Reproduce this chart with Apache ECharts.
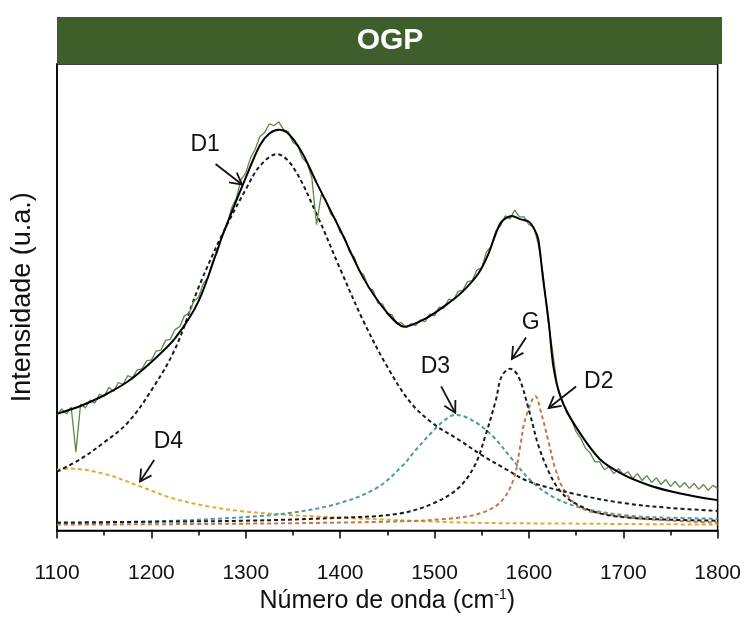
<!DOCTYPE html>
<html>
<head>
<meta charset="utf-8">
<script src="https://cdn.jsdelivr.net/npm/echarts@6/dist/echarts.min.js"></script>
<style>html,body{margin:0;padding:0;background:#fff}#c{width:744px;height:619px}</style>
</head>
<body>
<div id="c"></div>
<script>
// ---- data (wavenumber cm-1, intensity a.u.) ----
var expWn = [1100,1105,1110,1115,1120,1125,1130,1135,1140,1145,1150,1155,1160,1165,1170,1175,1180,1185,1190,1195,
1200,1205,1210,1215,1220,1225,1230,1235,1240,1245,1250,1255,1260,1265,1270,1275,1280,1285,1290,1295,
1300,1305,1310,1315,1320,1325,1330,1335,1340,1345,1350,1355,1360,1365,1370,1375,1380,1385,1390,1395,
1400,1405,1410,1415,1420,1425,1430,1435,1440,1445,1450,1455,1460,1465,1470,1475,1480,1485,1490,1495,
1500,1505,1510,1515,1520,1525,1530,1535,1540,1545,1550,1555,1560,1565,1570,1575,1580,1585,1590,1595,
1600,1605,1610,1615,1620,1625,1630,1635,1640,1645,1650,1655,1660,1665,1670,1675,1680,1685,1690,1695,
1700,1705,1710,1715,1720,1725,1730,1735,1740,1745,1750,1755,1760,1765,1770,1775,1780,1785,1790,1795,1800];
var expVal = [118,124,119,126,80,129,125,133,130,139,137,146,142,151,149,158,156,164,165,173,
174,183,184,194,195,205,208,219,222,234,238,252,258,275,284,302,311,329,339,358,
365,380,389,402,406,415,413,417,409,407,396,393,380,375,360,312,343,337,323,318,
304,299,284,279,265,261,248,245,232,231,221,220,211,212,207,211,209,215,213,221,
219,228,227,236,235,244,245,254,255,266,268,284,290,306,311,321,318,327,320,320,
312,310,292,262,216,184,148,134,120,113,101,94,84,79,70,70,62,65,58,63,
57,60,53,58,51,56,49,54,47,52,45,50,44,49,43,48,42,47,41,46,43];

var fitWn  = [1100,1125,1150,1175,1200,1225,1250,1275,1300,1315,1325,1335,1345,1360,1375,1400,1425,1450,1468,1490,1512,1530,1547,1557,1565,1571,1582,1590,1600,1606,1610,1615,1621,1626,1634,1649,1675,1700,1725,1750,1775,1800];
var fitVal = [119,127,138,152,172,196,234,300,360,393,405,409,405,385,355,307,257,222,208,216,230,244,263,282,303,315,321,318,315,307,297,257,213,167,135,107,73,57,47,40,35,31];

var d1Wn  = [1100,1125,1150,1175,1200,1225,1250,1275,1300,1315,1333,1350,1375,1400,1425,1450,1475,1500,1525,1550,1575,1600,1650,1700,1750,1800];
var d1Val = [60,73,90,110,143,185,248,302,348,372,384,371,323,267,213,167,130,108,93,77,63,50,37,28,23,20];

var gWn  = [1100,1200,1300,1400,1461,1497,1525,1543,1554,1565,1571,1580,1589,1600,1610,1621,1631,1645,1673,1708,1750,1800];
var gVal = [8,9,10,13,17,27,43,67,97,133,157,165,157,123,87,60,43,30,18,13,11,10];

var d2Wn  = [1100,1300,1450,1515,1550,1571,1584,1591,1596,1607,1613,1621,1628,1638,1655,1680,1720,1800];
var d2Val = [6,7,9,12,18,30,53,87,113,137,120,90,63,40,23,17,12,8];

var d3Wn  = [1100,1198,1269,1339,1396,1438,1465,1480,1497,1510,1522,1539,1561,1582,1603,1628,1660,1708,1750,1800];
var d3Val = [7,9,12,17,27,43,65,82,100,112,118,113,97,73,50,33,22,15,13,12];

var d4Wn  = [1100,1115,1153,1188,1222,1258,1293,1328,1381,1450,1536,1650,1800];
var d4Val = [62,63,57,45,33,25,20,17,14,11,8,7,6];

var xTicks = [1100,1200,1300,1400,1500,1600,1700,1800];

// annotations: label, text position, arrow tail, arrow head (data coords)
var annNames = ['D1','D4','D3','G','D2'];
var annText  = [[1257,394],[1218,91],[1501,167],[1602,212],[1674,152]];
var annFrom  = [[1268,374],[1203,72],[1507,147],[1597,197],[1650,147]];
var annTo    = [[1296,353],[1188,50],[1522,120],[1582,175],[1621,125]];

function zip(a,b){return a.map(function(v,i){return [v,b[i]];});}

var FONT = '"Liberation Sans", Arial, sans-serif';
var chart = echarts.init(document.getElementById('c'), null, {renderer:'canvas'});

function dashed(name, wn, val, color){
  return {type:'line', name:name, data:zip(wn,val), showSymbol:false, smooth:0.35, z:3,
    lineStyle:{color:color, width:2, type:[4,3]}};
}

var annData = annNames.map(function(n,i){
  return {name:n, value:[annText[i][0],annText[i][1],annFrom[i][0],annFrom[i][1],annTo[i][0],annTo[i][1]]};
});

var option = {
  animation:false,
  backgroundColor:'#fff',
  grid:{left:57, right:24, top:64, bottom:79, show:true, borderColor:'#000', borderWidth:1.5},
  xAxis:{type:'value', min:1100, max:1800, interval:100,
    axisLine:{show:true, lineStyle:{color:'#000', width:1.5}},
    axisTick:{show:true, inside:false, length:8, lineStyle:{color:'#000', width:1.5}},
    minorTick:{show:true, splitNumber:2, length:5, lineStyle:{color:'#000', width:1.5}},
    splitLine:{show:false},
    axisLabel:{fontSize:21, color:'#111', fontFamily:FONT, margin:32,
      formatter:function(v){return xTicks.indexOf(v)>=0?String(v):'';}},
    name:'Número de onda (cm{sup|-1})', nameLocation:'middle', nameGap:58,
    nameTextStyle:{fontSize:25, color:'#111', fontFamily:FONT,
      rich:{sup:{fontSize:14, color:'#111', fontFamily:FONT, verticalAlign:'top', padding:[0,0,12,0]}}}
  },
  yAxis:{type:'value', min:0, max:476,
    axisLine:{show:true, lineStyle:{color:'#000', width:1.5}},
    axisTick:{show:false}, axisLabel:{show:false}, splitLine:{show:false},
    name:'Intensidade (u.a.)', nameLocation:'middle', nameGap:21,
    nameTextStyle:{fontSize:27, color:'#111', fontFamily:FONT}
  },
  graphic:[
    {type:'rect', left:57, top:17, shape:{width:665, height:47}, style:{fill:'#3e5f2b'}, z:10},
    {type:'text', x:390, y:41, z:11,
      style:{text:'OGP', fill:'#fff', font:'bold 30px '+FONT, align:'center', verticalAlign:'middle'}}
  ],
  series:[
    dashed('D4', d4Wn, d4Val, '#e3a932'),
    dashed('D3', d3Wn, d3Val, '#4c9a9c'),
    dashed('D2', d2Wn, d2Val, '#c8744a'),
    dashed('G', gWn, gVal, '#1a1a1a'),
    dashed('D1', d1Wn, d1Val, '#1a1a1a'),
    {type:'line', name:'exp', data:zip(expWn,expVal), showSymbol:false, z:4,
      lineStyle:{color:'#5b8a45', width:1.3}},
    {type:'line', name:'fit', data:zip(fitWn,fitVal), showSymbol:false, smooth:0.3, z:5,
      lineStyle:{color:'#000', width:2}},
    {type:'custom', name:'ann', data:annData, z:6,
      encode:{x:[0,2,4], y:[1,3,5]},
      renderItem:function(params, api){
        var t = api.coord([api.value(0), api.value(1)]);
        var a = api.coord([api.value(2), api.value(3)]);
        var b = api.coord([api.value(4), api.value(5)]);
        var ang = Math.atan2(b[1]-a[1], b[0]-a[0]);
        var L = 13, w = 0.5;
        var p1 = [b[0]-L*Math.cos(ang-w), b[1]-L*Math.sin(ang-w)];
        var p2 = [b[0]-L*Math.cos(ang+w), b[1]-L*Math.sin(ang+w)];
        var st = {stroke:'#111', lineWidth:1.8, fill:null};
        return {type:'group', children:[
          {type:'line', shape:{x1:a[0],y1:a[1],x2:b[0],y2:b[1]}, style:st},
          {type:'polyline', shape:{points:[p1,b,p2]}, style:st},
          {type:'text', x:t[0], y:t[1], style:{text:annNames[params.dataIndex], fill:'#111',
            font:'23px '+FONT, align:'center', verticalAlign:'middle'}}
        ]};
      }
    }
  ]
};
chart.setOption(option);
</script>
</body>
</html>
